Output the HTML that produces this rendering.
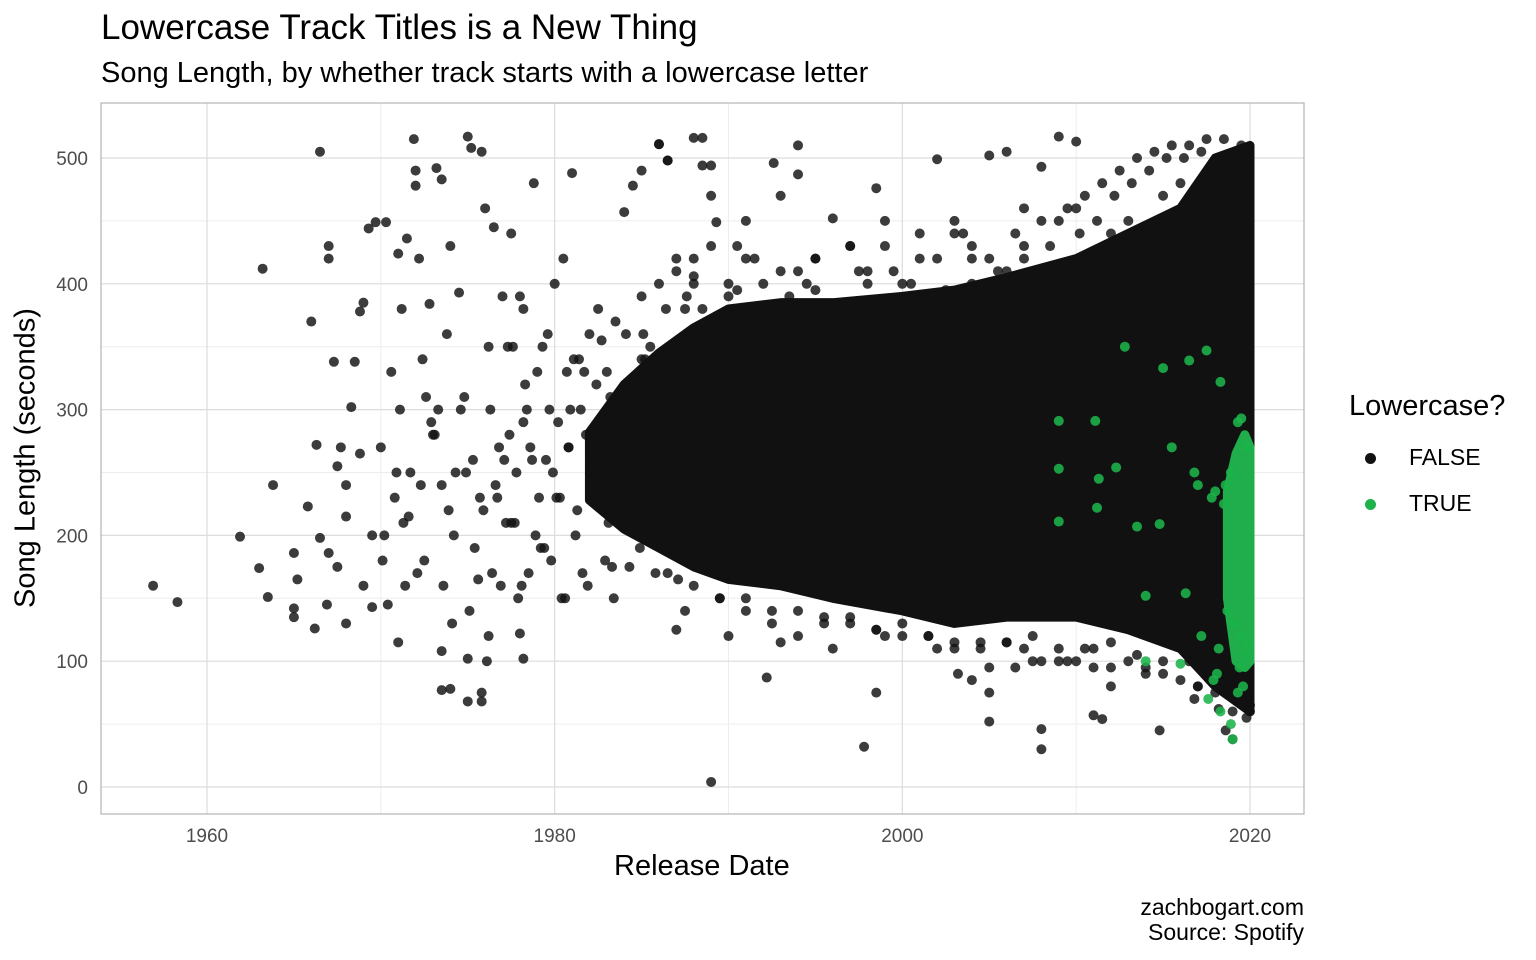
<!DOCTYPE html>
<html><head><meta charset="utf-8"><style>
body{margin:0;background:#fff;}
svg{display:block;font-family:"Liberation Sans",Arial,sans-serif;}
</style></head><body>
<svg id="chart" width="1536" height="960"></svg>
<script>
// ---- data ----
const bandYears=[1982,1984,1986,1988,1990,1993,1996,2000,2003,2006,2010,2013,2016,2018,2020];
const bandLow=[228,205,190,175,165,160,150,140,130,135,135,125,110,80,60];
const bandHigh=[282,320,345,365,380,385,385,390,395,405,420,440,460,500,510];
const greenBandYears=[2018.7,2019.2,2019.7,2020];
const greenBandLow=[150,100,95,100];
const greenBandHigh=[235,265,280,270];
const blackYears=[1956.9,1958.3,1961.9,1963.2,1963.5,1963,1963.8,1965,1965,1965.2,1965,1965.8,1966,1966.3,1966.2,1966.5,1966.5,1967,1967,1967,1966.9,1967.3,1967.5,1967.7,1968,1968,1968.3,1968.5,1968.8,1969,1969.3,1969.5,1969.7,1969,1969.5,1968.8,1967.5,1968,
1970,1970.3,1970.8,1971,1971.2,1971.5,1971.9,1972,1972,1972.4,1972.8,1973.2,1973.5,1973.5,1974,1974.5,1975,1975.2,1975.8,1976,1976.5,1977,1977.5,1978,1978.2,1978.8,1979.3,1980,1980.5,1981,1981.5,1982,1982.5,1983,1983.5,1984,1984.5,1985,1985.5,1986,1986.5,1987,1987.5,1988,1988.5,1989,1989.3,1990,
1970.2,1970.6,1971.1,1971.7,1972.2,1972.6,1973,1973.8,1974.3,1974.8,1975.4,1975.9,1976.3,1976.8,1977.3,1977.8,1978.4,1978.9,1979.5,1980.2,1980.7,1981.3,1981.8,1982.4,
1970.4,1971.3,1972.1,1972.9,1973.6,1974.2,1975.1,1975.7,1976.4,1977.1,1977.9,1978.6,1979.2,1980.1,1980.9,1981.6,1982.3,1983.1,1983.9,1984.7,
1970.1,1970.9,1971.6,1972.5,1973.3,1974.1,1974.9,1975.6,1976.2,1977.2,1978.1,1979.1,1979.8,1980.6,1981.4,1982.2,1983.3,1984.2,
1973.5,1974,1975,1975.8,1975.8,1975,1978,1978.2,1973.5,1971,
1986,1986.5,1988,1988.5,1989,1992.6,1994,1994,1996,1998.5,2002,2005,2006,2008,2009,2010,1990.5,1991,1993,1995,1997,1999,2001,2003,2004,2007,
1989,1997.8,2008,2008,1998.5,1992.2,2005,2005,2011,2011.5,2014.8,2004,2006.5,2003.2,2007,2009.5,2012,2016.8,2018.2,2018.6,2019,
1988,1990,1991.5,1993,1994.5,1996,1997.5,1999,2000.5,2002,2003.5,2005,2006.5,2008,2009.5,2010.5,2011.5,2012.5,2013.5,2014.5,2015.5,2016.5,2017.5,2018.5,2019.5,
1987.5,1989.5,1991,1992.5,1994,1995.5,1997,1998.5,2000,2001.5,2003,2004.5,2006,2007.5,2009,2010,2011,2012,2013,2014,2015,2016,2017,2018,2019,2019.8,
1988.5,1990.5,1992,1993.5,1995,1996.5,1998,1999.5,2001,2002.5,2004,2005.5,2007,2008.5,2010.2,2011.2,2012.2,2013.2,2014.2,2015.2,2016.2,2017.2,2018.2,2019.2,
1987,1990,1993,1996,1999,2002,2005,2008,2011,2014,2017,2019.5,2020,2020,2019.8,2019.6,2019.9,
1976.1,1976.6,1977.4,1977.7,1978.3,1978.7,1979.4,1979.7,1980.3,1980.8,1981.2,1981.7,1982.1,1982.6,1982.9,1983.2,1983.6,1984.1,1984.4,1984.9,1985.2,1985.7,1986.2,1986.8,1987.2,1987.8,
1976.2,1976.9,1977.6,1978.5,1979.6,1980.4,1981.1,1981.9,1982.7,1983.4,1984.3,1985.1,1985.8,1986.4,1987.1,1987.6,
1971.4,1972.3,1973.1,1973.9,1974.6,1975.3,1976.7,1977.5,1978.2,1979,1979.9,1980.8,
1984,1985,1986,1987,1988,1989,1991,1992,1994,1995,1997,1998,2000,2001,2003,2004,2006,2007,2009,2010,2012,2013,2015,2016,
1985,1986.5,1988,1989.5,1991,1992.5,1994,1995.5,1997,1998.5,2000,2001.5,2003,2004.5,2006,2007.5,2009,2010.5,2012,2013.5,2015,2016.5];
const blackSecs=[160,147,199,412,151,174,240,142,135,165,186,223,370,272,126,505,198,430,420,186,145,338,255,270,240,130,302,338,378,385,444,200,449,160,143,265,175,215,
270,449,230,424,380,436,515,478,490,340,384,492,483,240,430,393,517,508,505,460,445,390,440,390,380,480,350,400,420,488,300,360,380,330,370,457,478,340,350,511,498,420,380,406,516,494,449,400,
200,330,300,250,420,310,280,360,250,310,190,220,300,270,350,250,300,200,260,290,330,220,280,320,
145,210,170,290,160,200,140,230,170,260,150,270,190,230,300,170,260,210,240,300,
180,250,215,180,300,130,250,165,120,210,160,230,180,150,340,240,175,260,
77,78,68,68,75,102,122,102,108,115,
511,498,516,494,470,496,510,487,452,476,499,502,505,493,517,513,430,450,470,420,430,450,440,450,430,460,
4,32,30,46,75,87,52,75,57,54,45,85,95,90,110,100,80,70,62,45,38,
400,390,420,410,400,380,410,430,400,420,440,420,440,450,460,470,480,490,500,505,510,510,515,515,510,
140,150,140,130,120,135,130,125,130,120,110,115,115,100,100,100,110,95,100,95,90,85,80,75,60,55,
380,395,370,390,395,385,400,410,390,395,400,410,420,430,440,450,470,480,490,500,500,505,500,495,
125,120,115,110,120,110,95,100,95,90,80,70,65,60,470,490,120,100,
240,280,210,320,260,190,300,230,270,200,330,250,290,180,310,230,360,270,190,340,240,300,200,320,180,350,
160,350,170,360,150,340,160,355,150,175,360,170,380,165,390,160,
240,280,220,300,260,230,210,290,330,250,270,230,
390,400,410,420,430,420,400,410,420,430,410,400,420,440,420,410,430,450,460,440,450,470,480,490,
170,160,150,150,140,140,130,135,125,120,120,115,110,115,120,110,110,115,105,100,100,90];
const greenYears=[2012.8,2015,2016.5,2017.5,2018.3,2009,2011.1,2009,2011.3,2012.3,2013.5,2014.8,2009,2011.2,2014,2016.3,2014,2016,2015.5,2016.8,2017,2017.8,2018,2018.5,2019.3,2019.5,2019.7,2019.9,2018.9,2018.6,2017.2,2018.2,2019.4,2019.8,2017.6,2018.3,2018.9,2019,2019.3,2019.6,2018.1,2017.9,2018.7,2019.1,2019.5,2019.9];
const greenSecs=[350,333,339,347,322,291,291,253,245,254,207,209,211,222,152,154,100,98,270,250,240,230,235,225,290,293,272,270,250,240,120,110,95,105,70,60,50,38,75,80,90,85,140,130,120,115];
// ---- axes ----
const X=y=>207+(y-1960)*(1250-207)/60;
const Y=v=>787-v*(787-158)/500;
const svg=document.getElementById('chart');
const NS='http://www.w3.org/2000/svg';
function mk(tag,attrs,parent){const e=document.createElementNS(NS,tag);for(const k in attrs)e.setAttribute(k,attrs[k]);(parent||svg).appendChild(e);return e;}
const P={l:101,r:1304,t:103,b:814};
[50,150,250,350,450].forEach(v=>{const l=mk('line',{x1:P.l,x2:P.r,y1:Y(v),y2:Y(v),stroke:'#ededed','stroke-width':1});});
[1970,1990,2010].forEach(v=>{const l=mk('line',{x1:X(v),x2:X(v),y1:P.t,y2:P.b,stroke:'#ededed','stroke-width':1});});
[0,100,200,300,400,500].forEach(v=>{const l=mk('line',{x1:P.l,x2:P.r,y1:Y(v),y2:Y(v),stroke:'#dcdcdc','stroke-width':1.2});
 const t=mk('text',{x:88,y:Y(v)+7,'text-anchor':'end','font-size':19,fill:'#4d4d4d'});t.textContent=v;});
[1960,1980,2000,2020].forEach(v=>{const l=mk('line',{x1:X(v),x2:X(v),y1:P.t,y2:P.b,stroke:'#dcdcdc','stroke-width':1.2});
 const t=mk('text',{x:X(v),y:842,'text-anchor':'middle','font-size':19,fill:'#4d4d4d'});t.textContent=v;});
let pts=bandYears.map((y,i)=>X(y)+','+Y(bandHigh[i]));
pts=pts.concat(bandYears.map((y,i)=>X(y)+','+Y(bandLow[i])).reverse());
const band=mk('polygon',{points:pts.join(' '),fill:'#111111',stroke:'#111111','stroke-width':9,'stroke-linejoin':'round'});


blackYears.forEach((y,i)=>{const c=mk('circle',{cx:X(y),cy:Y(blackSecs[i]),r:5,fill:'#111111','fill-opacity':0.82});
 
 });
let gp=greenBandYears.map((y,i)=>X(y)+','+Y(greenBandHigh[i]));
gp=gp.concat(greenBandYears.map((y,i)=>X(y)+','+Y(greenBandLow[i])).reverse());
const gb=mk('polygon',{points:gp.join(' '),fill:'#1fae4b',stroke:'#1fae4b','stroke-width':9,'stroke-linejoin':'round'});


greenYears.forEach((y,i)=>{const c=mk('circle',{cx:X(y),cy:Y(greenSecs[i]),r:5,fill:'#1db34a','fill-opacity':0.88});
 
 });
const border=mk('rect',{x:P.l,y:P.t,width:P.r-P.l,height:P.b-P.t,fill:'none',stroke:'#b3b3b3','stroke-width':1.2});


</script>
<div style="position:absolute;left:0;top:0;width:1536px;height:960px;pointer-events:none;font-family:'Liberation Sans',Arial,sans-serif;">
<div style="position:absolute;left:101px;top:8px;font-size:35px;color:#000;white-space:nowrap;">Lowercase Track Titles is a New Thing</div>
<div style="position:absolute;left:101px;top:57px;font-size:29px;color:#000;white-space:nowrap;">Song Length, by whether track starts with a lowercase letter</div>
<div style="position:absolute;left:614px;top:850px;font-size:29px;color:#000;white-space:nowrap;">Release Date</div>
<div style="position:absolute;left:26px;top:458px;font-size:29px;color:#000;transform:translate(-50%,-50%) rotate(-90deg);white-space:nowrap;">Song Length (seconds)</div>
<div style="position:absolute;left:1349px;top:390px;font-size:29px;white-space:nowrap;">Lowercase?</div>
<div style="position:absolute;left:1365px;top:444px;font-size:23px;white-space:nowrap;"><span style="display:inline-block;width:11px;height:11px;border-radius:50%;background:#111;margin-right:33px;vertical-align:middle;"></span>FALSE</div>
<div style="position:absolute;left:1365px;top:490px;font-size:23px;white-space:nowrap;"><span style="display:inline-block;width:11px;height:11px;border-radius:50%;background:#1db34a;margin-right:33px;vertical-align:middle;"></span>TRUE</div>
<div style="position:absolute;right:232px;top:895px;font-size:23px;text-align:right;line-height:25px;">zachbogart.com<br>Source: Spotify</div>
</div>
</body></html>
